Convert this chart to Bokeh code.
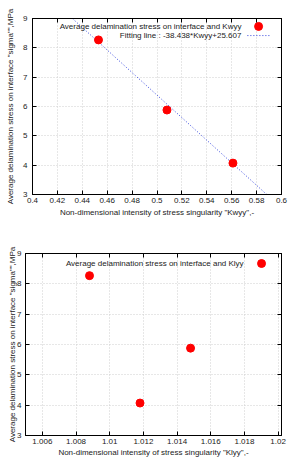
from bokeh.plotting import figure
from bokeh.layouts import column
from bokeh.models import FixedTicker, LinearAxis, Range1d, Label, CustomJSTickFormatter
from bokeh.embed import file_html
from bokeh.resources import INLINE

# ---- data ----
kwyy = [0.453, 0.508, 0.561]
sigma_kwyy = [8.27, 5.88, 4.07]
klyy = [1.0088, 1.0148, 1.0118]
sigma_klyy = [8.27, 5.88, 4.07]
fit_slope = -38.438
fit_intercept = 25.607

x1_ticks = [0.4, 0.42, 0.44, 0.46, 0.48, 0.5, 0.52, 0.54, 0.56, 0.58, 0.6]
x1_labels = ["0.4", "0.42", "0.44", "0.46", "0.48", "0.5", "0.52", "0.54", "0.56", "0.58", "0.6"]
x2_ticks = [1.006, 1.008, 1.01, 1.012, 1.014, 1.016, 1.018, 1.02]
x2_labels = ["1.006", "1.008", "1.01", "1.012", "1.014", "1.016", "1.018", "1.02"]
y_ticks = [3, 4, 5, 6, 7, 8, 9]
y_labels = ["3", "4", "5", "6", "7", "8", "9"]

ylabel = 'Average delamination stress on interface "sigma"",MPa'
xlabel1 = 'Non-dimensional intensity of stress singularity "Kwyy",-'
xlabel2 = 'Non-dimensional intensity of stress singularity "Klyy",-'
legend_pts1 = "Average delamination stress on interface and Kwyy"
legend_fit = "Fitting line : -38.438*Kwyy+25.607"
legend_pts2 = "Average delamination stress on interface and Klyy"

FONT = "Liberation Sans"
TXT = "#222222"


def make_fig(xr, xt, xl, xlab, height, mb_left, mb_top, mb_bottom,
             ylab_standoff, ylab_tick_standoff, xlab_standoff):
    p = figure(width=289, height=height, x_range=Range1d(*xr), y_range=Range1d(3, 9),
               output_backend="svg", toolbar_location=None,
               min_border_left=mb_left, min_border_right=8,
               min_border_top=mb_top, min_border_bottom=mb_bottom)
    p.frame_align = False
    p.outline_line_color = "black"
    p.outline_line_width = 1
    p.background_fill_color = "white"
    p.border_fill_color = "white"

    p.xaxis.ticker = FixedTicker(ticks=xt)
    p.xaxis.major_label_overrides = {t: s for t, s in zip(xt, xl)}
    p.yaxis.ticker = FixedTicker(ticks=y_ticks)
    p.yaxis.major_label_overrides = {t: s for t, s in zip(y_ticks, y_labels)}
    p.xaxis.axis_label = xlab
    p.yaxis.axis_label = ylabel
    for ax in (p.xaxis, p.yaxis):
        ax.major_tick_in = 4
        ax.major_tick_out = 0
        ax.minor_tick_line_color = None
        ax.axis_line_color = "black"
        ax.major_tick_line_color = "black"
        ax.major_label_text_font = FONT
        ax.major_label_text_font_size = "8px"
        ax.major_label_text_color = TXT
        ax.axis_label_text_font = FONT
        ax.axis_label_text_font_size = "8px"
        ax.axis_label_text_font_style = "normal"
        ax.axis_label_text_color = TXT
    p.xaxis.major_label_standoff = 3
    p.xaxis.axis_label_standoff = xlab_standoff
    p.yaxis.major_label_standoff = ylab_tick_standoff
    p.yaxis.axis_label_standoff = ylab_standoff

    # mirrored ticks on top and right (no labels)
    blank = CustomJSTickFormatter(code="return ''")
    top = LinearAxis(ticker=FixedTicker(ticks=xt), formatter=blank,
                     major_tick_in=4, major_tick_out=0, minor_tick_line_color=None,
                     major_label_standoff=0, axis_line_color="black")
    right = LinearAxis(ticker=FixedTicker(ticks=y_ticks), formatter=blank,
                       major_tick_in=4, major_tick_out=0, minor_tick_line_color=None,
                       major_label_standoff=0, axis_line_color="black")
    p.add_layout(top, "above")
    p.add_layout(right, "right")

    p.xgrid.ticker = FixedTicker(ticks=xt)
    p.ygrid.ticker = FixedTicker(ticks=y_ticks)
    for g in (p.xgrid, p.ygrid):
        g.grid_line_color = "#cfcfcf"
        g.grid_line_dash = "1 2"
        g.grid_line_width = 1
    return p


def fx(p, f):
    return p.x_range.start + f * (p.x_range.end - p.x_range.start)


def fy(p, f):
    return p.y_range.end - f * (p.y_range.end - p.y_range.start)


# ---- top chart ----
p1 = make_fig((0.4, 0.6), x1_ticks, x1_labels, xlabel1, 230, 32, 18, 36, 5, 5, 2)
xs_fit = [p1.x_range.start, p1.x_range.end]
ys_fit = [fit_slope * x + fit_intercept for x in xs_fit]
p1.line(xs_fit, ys_fit, line_color="#3344dd", line_width=1, line_dash="1 2")
p1.scatter(kwyy, sigma_kwyy, size=8, marker="circle", fill_color="red", line_color="red")

p1.add_layout(Label(x=fx(p1, 0.839), y=fy(p1, 0.045), text=legend_pts1, text_align="right",
                    text_baseline="middle", text_font=FONT, text_font_size="8px", text_color=TXT))
p1.add_layout(Label(x=fx(p1, 0.839), y=fy(p1, 0.097), text=legend_fit, text_align="right",
                    text_baseline="middle", text_font=FONT, text_font_size="8px", text_color=TXT))
p1.scatter([fx(p1, 0.908)], [fy(p1, 0.045)], size=8, marker="circle",
           fill_color="red", line_color="red")
p1.line([fx(p1, 0.863), fx(p1, 0.952)], [fy(p1, 0.097)] * 2,
        line_color="#3344dd", line_width=1, line_dash="1 2")

# ---- bottom chart ----
p2 = make_fig((1.005, 1.0202), x2_ticks, x2_labels, xlabel2, 231, 25, 23, 26, -3, 4, 1)
p2.scatter(klyy, sigma_klyy, size=8, marker="circle", fill_color="red", line_color="red")
p2.add_layout(Label(x=fx(p2, 0.852), y=fy(p2, 0.055), text=legend_pts2, text_align="right",
                    text_baseline="middle", text_font=FONT, text_font_size="8px", text_color=TXT))
p2.scatter([fx(p2, 0.922)], [fy(p2, 0.055)], size=8, marker="circle",
           fill_color="red", line_color="red")

layout = column(p1, p2, spacing=0)
open("out.html", "w").write(file_html(layout, INLINE))
